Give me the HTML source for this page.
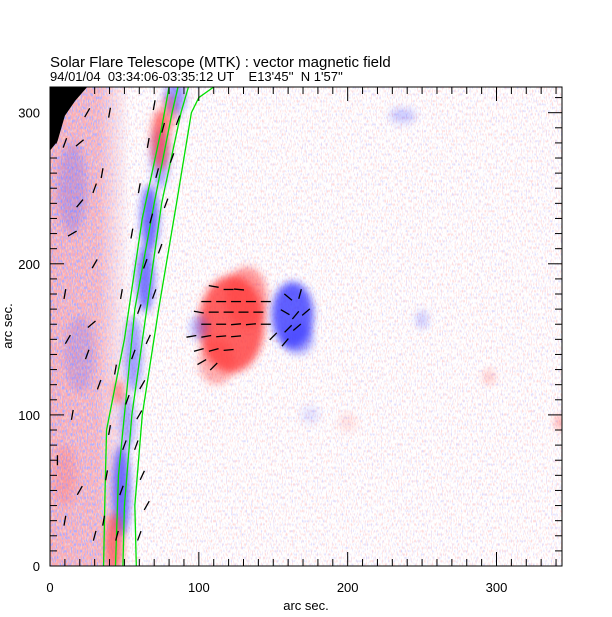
<!DOCTYPE html>
<html><head><meta charset="utf-8"><style>
html,body{margin:0;padding:0;background:#fff}
svg{display:block}
text{font-family:"Liberation Sans",sans-serif;fill:#000}
</style></head><body>
<svg id="chart" width="612" height="617" viewBox="0 0 612 617" xmlns="http://www.w3.org/2000/svg">
<defs>
<filter id="b3" x="-50%" y="-50%" width="200%" height="200%"><feGaussianBlur stdDeviation="4"/></filter>
<filter id="speck" x="0" y="0" width="100%" height="100%">
<feTurbulence type="fractalNoise" baseFrequency="0.8 0.3" numOctaves="1" seed="3" result="n"/>
<feColorMatrix in="n" type="matrix" values="0 0 0 0 1  0 0 0 0 0.45  0 0 0 0 0.45  4 0 0 0 -2.0" result="r"/>
<feTurbulence type="fractalNoise" baseFrequency="0.8 0.3" numOctaves="1" seed="11" result="n2"/>
<feColorMatrix in="n2" type="matrix" values="0 0 0 0 0.45  0 0 0 0 0.45  0 0 0 0 1  4 0 0 0 -2.2" result="bl"/>
<feMerge><feMergeNode in="r"/><feMergeNode in="bl"/></feMerge>
</filter>
<filter id="speck2" x="0" y="0" width="100%" height="100%">
<feTurbulence type="fractalNoise" baseFrequency="0.8 0.3" numOctaves="1" seed="5" result="n"/>
<feColorMatrix in="n" type="matrix" values="0 0 0 0 1  0 0 0 0 0.4  0 0 0 0 0.4  5 0 0 0 -1.7" result="r"/>
<feTurbulence type="fractalNoise" baseFrequency="0.8 0.3" numOctaves="1" seed="17" result="n2"/>
<feColorMatrix in="n2" type="matrix" values="0 0 0 0 0.4  0 0 0 0 0.4  0 0 0 0 1  5 0 0 0 -2.4" result="bl"/>
<feMerge><feMergeNode in="r"/><feMergeNode in="bl"/></feMerge>
</filter>
<linearGradient id="fade" x1="0" x2="1" y1="0" y2="0"><stop offset="0" stop-color="#fff" stop-opacity="1"/><stop offset="0.6" stop-color="#fff" stop-opacity="0.9"/><stop offset="1" stop-color="#fff" stop-opacity="0"/></linearGradient>
<mask id="fademask"><rect x="50" y="87" width="80" height="479" fill="url(#fade)"/></mask>
<clipPath id="plotclip"><rect x="50" y="87" width="512" height="479"/></clipPath>
</defs>
<text x="50" y="67" font-size="15">Solar Flare Telescope (MTK) : vector magnetic field</text>
<text x="50" y="81" font-size="13" xml:space="preserve">94/01/04  03:34:06-03:35:12 UT    E13'45''  N 1'57''</text>
<g id="plot" clip-path="url(#plotclip)"></g>
<rect x="50" y="87" width="512" height="479" fill="none" stroke="#000" stroke-width="1"/>
<g id="axes"></g>
<text x="306" y="610" font-size="13" text-anchor="middle">arc sec.</text>
<text x="0" y="0" font-size="13" text-anchor="middle" transform="translate(12,326) rotate(-90)">arc sec.</text>
</svg>
<script>
const xTicks=[0,100,200,300];
const yTicks=[0,100,200,300];
const xMax=344, yMax=317;
const contour1=[[36,0],[37,50],[38,90],[50,150],[62,230],[75,290],[80,317]];
const contour2=[[44,0],[46,60],[50,100],[57,170],[70,240],[82,300],[86,317]];
const contour3=[[49,0],[50,40],[55,100],[65,170],[75,240],[88,300],[93,317]];
const contour4=[[58,0],[57,40],[62,100],[73,170],[85,240],[95,300],[100,310],[110,317]];
const offDisk=[[0,317],[25,317],[17,308],[10,298],[5,281],[0,275]];
// field blobs: [x,y,rx,ry,polarity(1 red,-1 blue),strength]
const blobs=[[122,160,22,32,1,0.95],[132,178,14,20,1,0.6],[112,135,12,15,1,0.45],[163,166,14,22,-1,0.95],[167,150,10,10,-1,0.5],
[48,50,6,30,-1,0.85],[52,95,5,18,-1,0.5],[56,140,6,25,-1,0.55],[64,190,6,22,-1,0.8],[67,230,6,22,-1,0.85],[74,270,6,20,-1,0.5],[84,310,7,12,-1,0.6],
[43,15,6,20,1,0.75],[46,115,4,8,1,0.6],[74,282,6,20,1,0.8],[80,300,5,12,1,0.5],
[237,298,9,5,-1,0.3],[250,163,4,6,-1,0.3],[343,95,4,5,1,0.45],[295,125,4,5,1,0.3],[100,158,6,8,-1,0.4],[175,100,6,6,-1,0.15],[200,95,6,6,1,0.15],
[15,250,10,30,-1,0.25],[20,140,10,25,-1,0.2],[10,60,8,20,1,0.2]];
const vectors=[[110,185,-10],[120,183,0],[127,183,-5],[105,175,0],[115,175,0],[125,175,0],[135,175,0],[145,175,0],[100,168,-10],[110,168,0],[120,168,0],[130,168,0],[140,168,0],[105,160,0],[115,160,0],[125,160,5],[135,160,5],[145,160,0],[95,152,10],[105,152,10],[115,152,5],[125,152,5],[100,143,15],[110,143,15],[120,143,5],[102,135,30],[110,132,45],
[160,178,-40],[168,180,75],[158,168,-30],[165,166,50],[172,168,40],[160,157,45],[166,158,40],[150,152,45],[158,148,50],
[60,20,70],[65,40,60],[62,60,65],[58,80,70],[60,100,60],[62,120,60],[66,150,65],[70,180,70],[74,210,70],[78,240,70],[82,270,70],[86,295,70],[45,20,75],[48,50,70],[50,80,70],[52,110,70],[56,140,70],[60,170,70],[64,200,70],[68,230,75],[72,260,75],[76,290,75],[36,30,80],[38,60,80],[40,90,80],[44,130,80],[48,180,80],[55,220,80],[60,250,80],[66,280,80],[70,305,80],
[10,30,80],[20,50,60],[15,100,80],[25,140,70],[10,180,80],[30,200,60],[20,240,50],[35,260,80],[10,280,70],[25,300,60],[30,20,75],[5,70,90],[28,160,40],[15,220,30],[40,300,80],[20,280,40],[30,250,70],[12,150,60],[33,120,70]];
const NS='http://www.w3.org/2000/svg';
const X=v=>50+v*(512/xMax), Y=v=>566-v*(479/yMax);
const plot=document.getElementById('plot'), axes=document.getElementById('axes');
function mk(tag,attrs,parent){const e=document.createElementNS(NS,tag);for(const k in attrs)e.setAttribute(k,attrs[k]);parent.appendChild(e);return e;}
let bg=mk('rect',{x:50,y:87,width:512,height:479,fill:'#fff'},plot);


let sp=mk('rect',{x:50,y:87,width:512,height:479,fill:'#fff',filter:'url(#speck)',opacity:0.5},plot);


let sg=mk('g',{mask:'url(#fademask)'},plot);


let tint=mk('rect',{x:50,y:87,width:80,height:479,fill:'#f6c8cc'},sg);


let strip=mk('rect',{x:50,y:87,width:80,height:479,fill:'#fff',filter:'url(#speck2)'},sg);


blobs.forEach(b=>{
  const e=mk('ellipse',{cx:X(b[0]),cy:Y(b[1]),rx:b[2]*512/xMax,ry:b[3]*479/yMax,fill:b[4]>0?'#ff3a3a':'#3a3aff',opacity:b[5]*0.85,filter:'url(#b3)'},plot);
  
  
});
const corner=mk('polygon',{points:offDisk.map(d=>X(d[0])+','+Y(d[1])).join(' '),fill:'#000'},plot);


[contour1,contour2,contour3,contour4].forEach((c,i)=>{
  const p=mk('polyline',{points:c.map(d=>X(d[0])+','+Y(d[1])).join(' '),fill:'none',stroke:'#00e000','stroke-width':1.3},plot);
  
  
});
vectors.forEach(v=>{
  const a=v[2]*Math.PI/180,L=5,cx=X(v[0]),cy=Y(v[1]);
  const l=mk('line',{x1:cx-L*Math.cos(a),y1:cy+L*Math.sin(a),x2:cx+L*Math.cos(a),y2:cy-L*Math.sin(a),stroke:'#000','stroke-width':1.3},plot);
  
  
});
for(let v=0;v<=xMax;v+=10){const len=v%100===0?14:7;
  const t1=mk('line',{x1:X(v),x2:X(v),y1:566,y2:566-len,stroke:'#000'},axes);
  
  
  const t2=mk('line',{x1:X(v),x2:X(v),y1:87,y2:87+len,stroke:'#000'},axes);
  
  }
for(let v=0;v<=yMax;v+=10){const len=v%100===0?14:7;
  const t1=mk('line',{y1:Y(v),y2:Y(v),x1:50,x2:50+len,stroke:'#000'},axes);
  
  
  const t2=mk('line',{y1:Y(v),y2:Y(v),x1:562,x2:562-len,stroke:'#000'},axes);
  
  }
xTicks.forEach(v=>{const t=mk('text',{x:X(v),y:592,'font-size':13,'text-anchor':'middle'},axes);t.textContent=v;
  
  });
yTicks.forEach(v=>{const t=mk('text',{x:40,y:Y(v)+5,'font-size':13,'text-anchor':'end'},axes);t.textContent=v;
  
  });
</script>
</body></html>
